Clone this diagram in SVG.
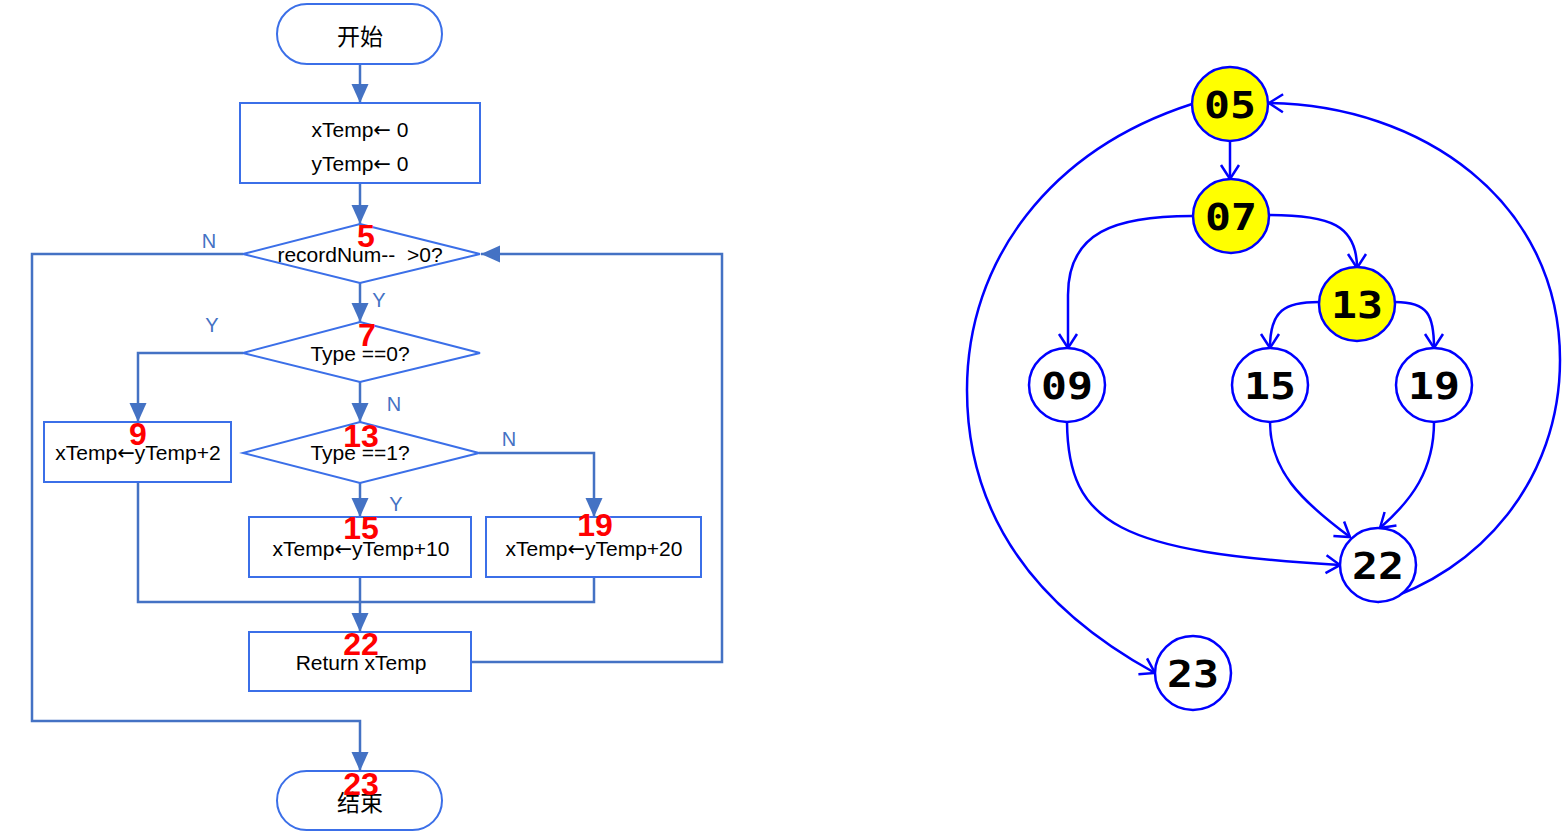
<svg xmlns="http://www.w3.org/2000/svg" width="1564" height="836" viewBox="0 0 1564 836">
<style>
.box{fill:#fff;stroke:#3B6FE8;stroke-width:2}
.t{font-family:"Liberation Sans","Noto Sans CJK SC",sans-serif;font-size:21px;fill:#000;text-anchor:middle;white-space:pre}
.ar{font-family:"DejaVu Sans",sans-serif;font-size:21px}
.cjk{font-family:"Noto Sans CJK SC",sans-serif;font-size:23px;fill:#000;text-anchor:middle}
.lbl{font-family:"Liberation Sans",sans-serif;font-size:20px;fill:#4472C4;text-anchor:middle}
.red{font-family:"Liberation Sans",sans-serif;font-weight:bold;font-size:32px;fill:#FF0000;text-anchor:middle}
.con{fill:none;stroke:#4472C4;stroke-width:2.5}
.gn{stroke:#0000FF;stroke-width:2.5}
.gy{fill:#FFFF00}
.gw{fill:#fff}
.gt{font-family:"DejaVu Sans Mono",monospace;font-weight:bold;font-size:38px;fill:#000;text-anchor:middle}
.ge{fill:none;stroke:#0000FF;stroke-width:2.5}
</style>
<defs>
<marker id="fa" markerUnits="userSpaceOnUse" markerWidth="20" markerHeight="18" refX="19" refY="8.5" orient="auto">
<path d="M0,0 L19,8.5 L0,17 Z" fill="#4472C4"/>
</marker>
<marker id="va" markerUnits="userSpaceOnUse" markerWidth="20" markerHeight="22" refX="16" refY="11" orient="auto">
<path d="M2,2 L16,11 L2,20" fill="none" stroke="#0000FF" stroke-width="2.5"/>
</marker>
</defs>
<rect width="1564" height="836" fill="#fff"/>

<g id="connectors-left">
<path class="con" d="M360,64 V103" marker-end="url(#fa)"/>
<path class="con" d="M360,183 V224" marker-end="url(#fa)"/>
<path class="con" d="M360,283 V322" marker-end="url(#fa)"/>
<path class="con" d="M360,382 V422" marker-end="url(#fa)"/>
<path class="con" d="M360,483 V517" marker-end="url(#fa)"/>
<path class="con" d="M243,353 H138 V422" marker-end="url(#fa)"/>
<path class="con" d="M479,453 H594 V517" marker-end="url(#fa)"/>
<path class="con" d="M138,482 V602 H594 V577"/>
<path class="con" d="M360,577 V632" marker-end="url(#fa)"/>
<path class="con" d="M471,662 H722 V254 H481" marker-end="url(#fa)"/>
<path class="con" d="M243,254 H32 V721 H360 V771" marker-end="url(#fa)"/>
<text class="lbl" x="209" y="248">N</text>
<text class="lbl" x="379" y="307">Y</text>
<text class="lbl" x="212" y="332">Y</text>
<text class="lbl" x="394" y="411">N</text>
<text class="lbl" x="509" y="446">N</text>
<text class="lbl" x="396" y="511">Y</text>
</g>

<g id="n-start">
<rect class="box" x="277" y="4" width="165" height="60" rx="30"/>
<text class="cjk" x="360" y="45">开始</text>
</g>
<g id="n-init">
<rect class="box" x="240" y="103" width="240" height="80"/>
<text class="t" x="360" y="137">xTemp<tspan class="ar">←</tspan> 0</text>
<text class="t" x="360" y="171">yTemp<tspan class="ar">←</tspan> 0</text>
</g>
<g id="n5">
<polygon class="box" points="360,224 480,254 360,283 243,254"/>
<text class="t" x="360" y="262">recordNum--  &gt;0?</text>
<text class="red" x="366" y="247">5</text>
</g>
<g id="n7">
<polygon class="box" points="360,322 480,353 360,382 243,353"/>
<text class="t" x="360" y="361">Type ==0?</text>
<text class="red" x="367" y="346">7</text>
</g>
<g id="n9">
<rect class="box" x="44" y="422" width="187" height="60"/>
<text class="t" x="138" y="460">xTemp<tspan class="ar">←</tspan>yTemp+2</text>
<text class="red" x="138" y="445">9</text>
</g>
<g id="n13">
<polygon class="box" points="360,422 479,453 360,483 243,453"/>
<text class="t" x="360" y="460">Type ==1?</text>
<text class="red" x="361" y="447">13</text>
</g>
<g id="n15">
<rect class="box" x="249" y="517" width="222" height="60"/>
<text class="t" x="361" y="556">xTemp<tspan class="ar">←</tspan>yTemp+10</text>
<text class="red" x="361" y="539">15</text>
</g>
<g id="n19">
<rect class="box" x="486" y="517" width="215" height="60"/>
<text class="t" x="594" y="556">xTemp<tspan class="ar">←</tspan>yTemp+20</text>
<text class="red" x="595" y="536">19</text>
</g>
<g id="n22">
<rect class="box" x="249" y="632" width="222" height="59"/>
<text class="t" x="361" y="670">Return xTemp</text>
<text class="red" x="361" y="655">22</text>
</g>
<g id="n-end">
<rect class="box" x="277" y="771" width="165" height="59" rx="29.5"/>
<text class="cjk" x="360" y="811">结束</text>
<text class="red" x="361" y="795">23</text>
</g>

<g id="edges-right">
<path class="ge" d="M1230,141 V179" marker-end="url(#va)"/>
<path class="ge" d="M1269,215 C1330,215 1357,225 1357,268" marker-end="url(#va)"/>
<path class="ge" d="M1192,216 C1115,216 1068,232 1068,295 L1068,348" marker-end="url(#va)"/>
<path class="ge" d="M1319,302 C1285,302 1270,310 1270,348" marker-end="url(#va)"/>
<path class="ge" d="M1395,302 C1428,302 1434,315 1434,348" marker-end="url(#va)"/>
<path class="ge" d="M1067,422 C1068,525 1120,552 1340,565" marker-end="url(#va)"/>
<path class="ge" d="M1270,422 C1270,470 1300,500 1350,537" marker-end="url(#va)"/>
<path class="ge" d="M1434,422 C1434,470 1412,500 1380,528" marker-end="url(#va)"/>
<path class="ge" d="M1378,602 C1480,572 1560,480 1560,360 C1560,200 1420,105 1269,103" marker-end="url(#va)"/>
<path class="ge" d="M1192,104 C1050,150 967,260 967,390 C967,520 1040,610 1155,673" marker-end="url(#va)"/>
</g>

<g id="g05"><ellipse class="gn gy" cx="1230" cy="104" rx="38" ry="37"/><text class="gt" x="1230" y="118" textLength="52" lengthAdjust="spacingAndGlyphs">05</text></g>
<g id="g07"><ellipse class="gn gy" cx="1231" cy="216" rx="38" ry="37"/><text class="gt" x="1231" y="230" textLength="52" lengthAdjust="spacingAndGlyphs">07</text></g>
<g id="g13"><ellipse class="gn gy" cx="1357" cy="304" rx="38" ry="37"/><text class="gt" x="1357" y="318" textLength="52" lengthAdjust="spacingAndGlyphs">13</text></g>
<g id="g09"><ellipse class="gn gw" cx="1067" cy="385" rx="38" ry="37"/><text class="gt" x="1067" y="399" textLength="52" lengthAdjust="spacingAndGlyphs">09</text></g>
<g id="g15"><ellipse class="gn gw" cx="1270" cy="385" rx="38" ry="37"/><text class="gt" x="1270" y="399" textLength="52" lengthAdjust="spacingAndGlyphs">15</text></g>
<g id="g19"><ellipse class="gn gw" cx="1434" cy="385" rx="38" ry="37"/><text class="gt" x="1434" y="399" textLength="52" lengthAdjust="spacingAndGlyphs">19</text></g>
<g id="g22"><ellipse class="gn gw" cx="1378" cy="565" rx="38" ry="37"/><text class="gt" x="1378" y="579" textLength="52" lengthAdjust="spacingAndGlyphs">22</text></g>
<g id="g23"><ellipse class="gn gw" cx="1193" cy="673" rx="38" ry="37"/><text class="gt" x="1193" y="687" textLength="52" lengthAdjust="spacingAndGlyphs">23</text></g>
</svg>
